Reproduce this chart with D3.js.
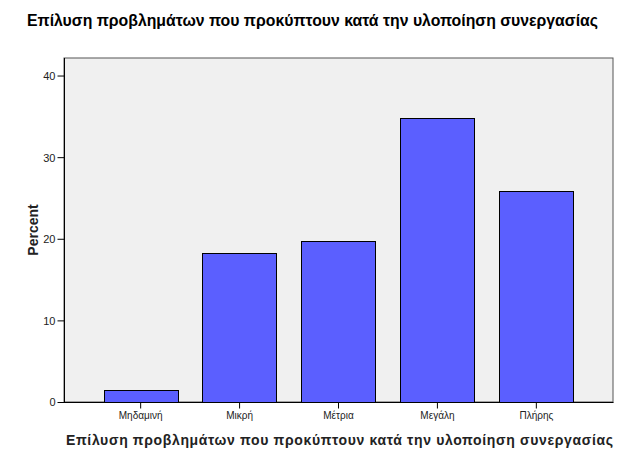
<!DOCTYPE html>
<html>
<head>
<meta charset="utf-8">
<script src="https://cdn.jsdelivr.net/npm/d3@7"></script>
<style>
  body { margin: 0; background: #fff; }
  text { font-family: "Liberation Sans", Arial, sans-serif; }
</style>
</head>
<body>
<div id="chart"></div>
<script>
var TITLE = "Επίλυση προβλημάτων που προκύπτουν κατά την υλοποίηση συνεργασίας";
var categories = ["Μηδαμινή", "Μικρή", "Μέτρια", "Μεγάλη", "Πλήρης"];
var percents = [1.5, 18.2, 19.7, 34.8, 25.8];
var yTicks = [0, 10, 20, 30, 40];

var W = 627, H = 464;
var LEFT = 64, RIGHT = 613, TOP = 58, BOTTOM = 402;

var svg = d3.select("#chart").append("svg")
  .attr("width", W)
  .attr("height", H);

var x = d3.scaleBand()
  .domain(categories)
  .range([LEFT, RIGHT])
  .paddingInner(0.25)
  .paddingOuter(0.4);

var y = d3.scaleLinear()
  .domain([0, 42.15])
  .range([BOTTOM, TOP]);

// plot background
svg.append("rect")
  .attr("x", LEFT).attr("y", TOP)
  .attr("width", RIGHT - LEFT).attr("height", BOTTOM - TOP)
  .style("fill", "#f0f0f0")
  .style("stroke", "#555")
  .style("stroke-width", 1);

// bars
svg.selectAll(".bar")
  .data(percents)
  .enter().append("rect")
  .attr("class", "bar")
  .attr("x", function(d, i) { return Math.round(x(categories[i])) + 0.5; })
  .attr("y", function(d) { return Math.round(y(d)) + 0.5; })
  .attr("width", Math.round(x.bandwidth()))
  .attr("height", function(d) { return Math.round(y(0)) - Math.round(y(d)); })
  .style("fill", "#5b5fff")
  .style("stroke", "#000")
  .style("stroke-width", 1);

// y axis
var yAxis = svg.append("g")
  .attr("transform", "translate(" + (LEFT + 0.5) + ",0)")
  .call(d3.axisLeft(y).tickValues(yTicks).tickSize(7).tickPadding(2).tickSizeOuter(0));
yAxis.select(".domain").attr("d", "M0," + TOP + "V" + (BOTTOM + 0.5)).style("stroke", "#000");
yAxis.selectAll(".tick line").style("stroke", "#000");
yAxis.selectAll("text")
  .style("font-size", "11px")
  .style("fill", "#222")
  .attr("dy", "0.35em");

// x axis
var xAxis = svg.append("g")
  .attr("transform", "translate(0," + (BOTTOM + 0.5) + ")")
  .call(d3.axisBottom(x).tickSize(6).tickPadding(3).tickSizeOuter(0));
xAxis.select(".domain").attr("d", "M" + LEFT + ",0H" + (RIGHT + 0.5)).style("stroke", "#000");
xAxis.selectAll(".tick line").style("stroke", "#000");
xAxis.selectAll("text")
  .style("font-size", "10px")
  .style("fill", "#222");

// titles
svg.append("text")
  .attr("x", 312.5).attr("y", 26)
  .attr("text-anchor", "middle")
  .attr("textLength", 571)
  .attr("lengthAdjust", "spacingAndGlyphs")
  .style("font-size", "16px")
  .style("font-weight", "bold")
  .style("fill", "#000")
  .text(TITLE);

svg.append("text")
  .attr("x", 339.5).attr("y", 445)
  .attr("text-anchor", "middle")
  .attr("textLength", 547)
  .attr("lengthAdjust", "spacing")
  .style("font-size", "14px")
  .style("font-weight", "bold")
  .style("fill", "#222")
  .text(TITLE);

svg.append("text")
  .attr("transform", "translate(38," + ((TOP + BOTTOM) / 2) + ") rotate(-90)")
  .attr("text-anchor", "middle")
  .style("font-size", "14px")
  .style("font-weight", "bold")
  .style("fill", "#222")
  .text("Percent");
</script>
</body>
</html>
